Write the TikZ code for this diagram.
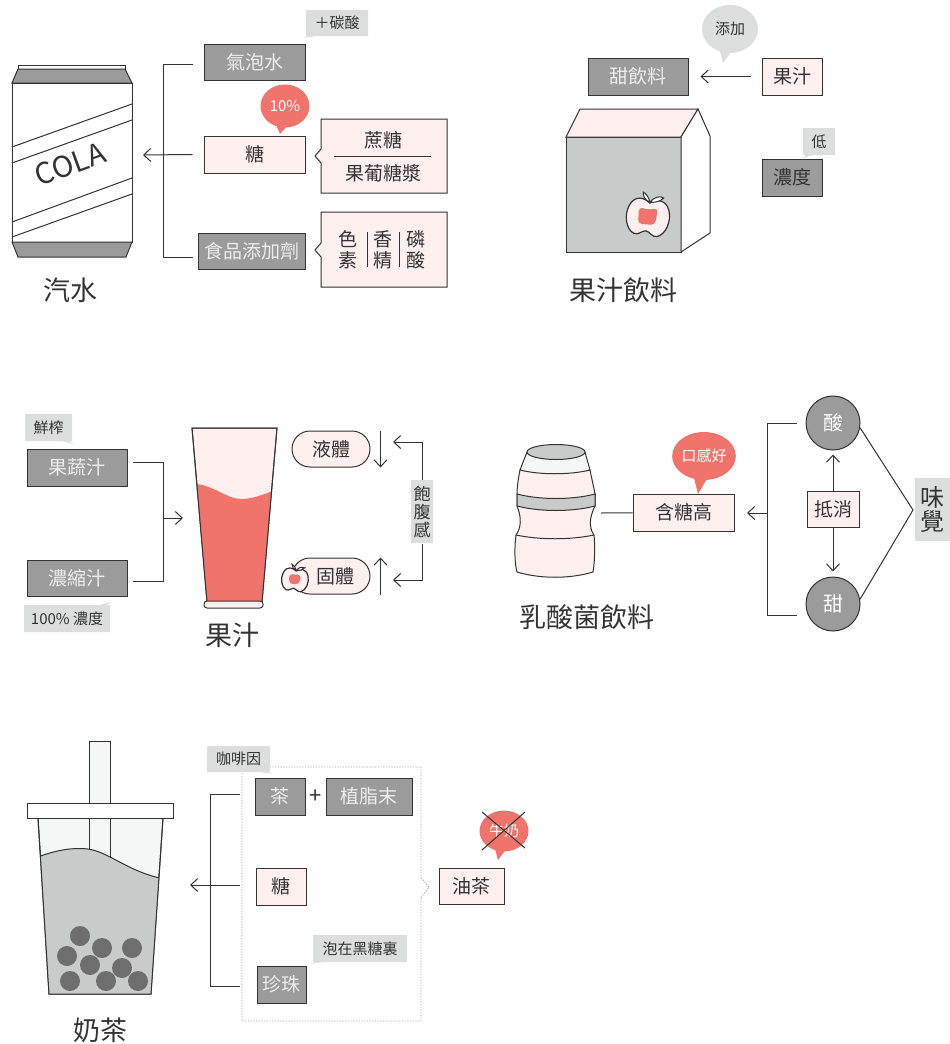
\documentclass[tikz,border=0pt]{standalone}
\usepackage{fontspec}
\setmainfont{Noto Sans CJK TC}
\usetikzlibrary{%
  positioning
 ,arrows.meta
 ,shapes.callouts
 ,calc
}
\definecolor{boxgray}{HTML}{9B9B9B}
\definecolor{boxpink}{HTML}{FFF0F0}
\definecolor{taggray}{HTML}{DCDDDD}
\definecolor{bubred}{HTML}{F0736C}
\definecolor{midgray}{HTML}{C9CACA}
\definecolor{cupwhite}{HTML}{F5F7F7}
\definecolor{pearl}{HTML}{6E6E6E}
\definecolor{ink}{HTML}{333333}

\tikzstyle{box}=[draw=ink,inner sep=0pt]
\tikzstyle{dkbox}=[box,fill=boxgray,text=white!93!black]
\tikzstyle{pkbox}=[box,fill=boxpink,text=ink]
\tikzstyle{notch}=[rectangle callout,callout pointer width=14pt]
\tikzstyle{tagbox}=[rectangle callout,fill=taggray,inner sep=0pt,callout pointer width=7pt,font=\fontsize{15}{17}\selectfont]
\tikzstyle{redbub}=[ellipse callout,fill=bubred,text=white,inner sep=0pt,callout pointer arc=22,font=\fontsize{15}{17}\selectfont]
\tikzstyle{lbl}=[font=\fontsize{27}{29}\selectfont,text=ink]
\tikzstyle{taste}=[circle,fill=boxgray,draw=ink,minimum size=54pt,inner sep=0pt,text=white,font=\fontsize{20}{22}\selectfont]

\tikzset{
  apple/.pic={
    \draw[fill=boxpink,line width=1.2pt] (0,-13) .. controls (-6,-18) and (-16,-19) .. (-20,-8)
      .. controls (-24,2) and (-20,16) .. (-12,19) .. controls (-7,21) and (-4,15) .. (0,15)
      .. controls (4,15) and (7,21) .. (12,19) .. controls (20,16) and (24,2) .. (20,-8)
      .. controls (16,-19) and (6,-18) .. (0,-13) -- cycle;
    \draw[fill=white] (0,-14) .. controls (-2,-19) and (-5,-22) .. (-8,-23) .. controls (-8,-19) and (-5,-15) .. (0,-14);
    \draw[fill=white] (0,-14) .. controls (4,-20) and (9,-22) .. (13,-20) .. controls (10,-16) and (5,-14) .. (0,-14);
    \fill[bubred,rounded corners=4pt] (-10,-8) -- (-2,-6) -- (9,-9) -- (8,8) -- (-9,9) -- cycle;
  }
}

\begin{document}
\begin{tikzpicture}[x=1pt,y=-1pt,line width=1pt,color=ink,
  font=\fontsize{19}{21}\selectfont,>={Straight Barb[length=7pt,width=13pt]}]
  \useasboundingbox (0,0) rectangle (950,1044);

  % --- soda -------------------------------------------------------------
  \draw[fill=white] (18,65) rectangle (125,69);
  \draw[fill=boxgray] (18,69) -- (125,69) -- (132,83) -- (12,83) -- cycle;
  \draw[fill=white] (12,83) rectangle (132,242);
  \draw[fill=boxgray] (12,242) -- (132,242) -- (126,257) -- (18,257) -- cycle;
  \draw (12,147) -- (132,104) (12,163) -- (132,120)
        (12,222) -- (132,178) (12,237) -- (132,194);
  \node[rotate=20,font=\fontsize{29}{31}\selectfont] (cola) at (70,164) {COLA};
  \node[lbl] (qishui) at (70,290) {汽水};

  \node[dkbox,minimum width=101,minimum height=36] (qpw) at (254.5,62) {氣泡水};
  \node[pkbox,minimum width=101,minimum height=37] (tang) at (254.5,154.5) {糖};
  \node[dkbox,minimum width=107,minimum height=36] (tjj) at (251.5,251) {食品添加劑};
  \node[tagbox,minimum width=62,minimum height=26,callout absolute pointer={(303,38)}] (ts) at (337,23) {＋碳酸};
  \node[redbub,minimum width=49,minimum height=43,callout absolute pointer={(280,134)}] (pct) at (285,106) {10\%};

  \node[pkbox,notch,minimum width=126,minimum height=74,callout absolute pointer={(315,156)}] (zt) at (384,156) {};
  \node (zt1) at (383,140) {蔗糖};
  \node (zt2) at (383,173) {果葡糖漿};
  \draw (334,156) -- (431,156);

  \node[pkbox,notch,minimum width=126,minimum height=75,callout absolute pointer={(315,250)}] (tjw) at (384,249.5) {};
  \node[align=center,font=\fontsize{19}{21}\selectfont] (sesu) at (348,250) {色\\素};
  \node[align=center,font=\fontsize{19}{21}\selectfont] (xj) at (383,250) {香\\精};
  \node[align=center,font=\fontsize{19}{21}\selectfont] (ls) at (416,250) {磷\\酸};
  \draw (367,232) -- (367,267) (399,232) -- (399,267);

  \coordinate (can) at (143,155);
  \draw (193,64) -| (163,257) -- (193,257);
  \draw[->] ([xshift=-11]tang.west) -- (can);

  % --- fruit drink ------------------------------------------------------
  \draw[fill=midgray] (566,137) rectangle (681,252);
  \draw[fill=boxpink] (566,137) -- (580,109) -- (698,109) -- (681,137) -- cycle;
  \draw[fill=white] (681,137) -- (698,109) -- (710,136) -- (710,233) -- (681,252) -- cycle;
  \pic[rotate=-8] at (648,216) {apple};
  \node[lbl] (gzyl) at (623,290) {果汁飲料};

  \node[dkbox,minimum width=100,minimum height=37] (tyl) at (638,76.5) {甜飲料};
  \node[pkbox,minimum width=60,minimum height=37] (gz) at (792,76.5) {果汁};
  \node[redbub,fill=taggray,text=ink,minimum width=56,minimum height=48,callout absolute pointer={(723,63)}] (tj) at (730,29) {添加};
  \draw[->] ([xshift=-11]gz.west) -- ([xshift=12]tyl.east);
  \node[dkbox,text=ink,minimum width=60,minimum height=37] (nd) at (792,177.5) {濃度};
  \node[tagbox,minimum width=32,minimum height=27,callout absolute pointer={(802,158)}] (di) at (819,141.5) {低};

  % --- juice ------------------------------------------------------------
  \node[tagbox,minimum width=47,minimum height=27,callout absolute pointer={(74,444)}] (xz) at (48.5,427.5) {鮮榨};
  \node[dkbox,minimum width=100,minimum height=37] (gsz) at (77,467.5) {果蔬汁};
  \node[dkbox,minimum width=100,minimum height=36] (nsz) at (77,578) {濃縮汁};
  \node[tagbox,minimum width=86,minimum height=27,callout absolute pointer={(112,602)}] (bfb) at (67,618.5) {100\% 濃度};
  \coordinate (glass) at (183,518);
  \draw (133,462) -| (163,581) -- (133,581);
  \draw[->] (163,518) -- (glass);

  \draw[fill=boxpink] (192,428) -- (277,428) -- (262,602) -- (207,602) -- cycle;
  \begin{scope}
    \clip (192,428) -- (277,428) -- (262,602) -- (207,602) -- cycle;
    \fill[bubred] (185,484) .. controls (212,481) and (225,500) .. (243,499)
      .. controls (258,498) and (268,492) .. (285,487) -- (285,610) -- (185,610) -- cycle;
  \end{scope}
  \draw (192,428) -- (277,428) -- (262,602) -- (207,602) -- cycle;
  \draw[fill=boxpink,rounded corners=3] (204,601) rectangle (263,608);
  \node[lbl] (gzl) at (232,635) {果汁};

  \node[pkbox,rounded corners=18,minimum width=78,minimum height=36] (yt) at (331,449) {液體};
  \node[pkbox,rounded corners=18,minimum width=78,minimum height=36] (gt) at (331,576) {\hspace{8pt}固體};
  \pic[scale=0.62,rotate=-8] at (295,579) {apple};
  \draw[->] ([xshift=10]yt.north east) -- ([xshift=10]yt.south east);
  \draw[->] ([xshift=10]gt.south east) -- ([xshift=10]gt.north east);

  \node[fill=taggray,minimum width=22,minimum height=63,inner sep=0pt,align=center,
        font=\fontsize{17}{18}\selectfont] (bfg) at (422,511.5) {飽\\腹\\感};
  \coordinate (f1) at (393,442);
  \coordinate (f2) at (393,580);
  \draw[->] (bfg.north) |- (f1);
  \draw[->] (bfg.south) |- (f2);

  % --- yakult -----------------------------------------------------------
  \draw[fill=boxpink] (520,470) .. controls (518,480) and (517,488) .. (517,494) -- (517,506)
    .. controls (522,518) and (521,528) .. (516,535) .. controls (514,550) and (515,565) .. (517,572)
    .. controls (540,579) and (570,579) .. (593,572) .. controls (595,560) and (595,545) .. (594,535)
    .. controls (589,528) and (589,518) .. (595,506) -- (595,494)
    .. controls (594,488) and (592,480) .. (590,470) -- cycle;
  \draw (516,535) .. controls (540,540) and (570,540) .. (594,535);
  \draw[fill=midgray] (517,494) .. controls (540,500) and (572,500) .. (595,494) -- (595,506)
    .. controls (572,512) and (540,512) .. (517,506) -- cycle;
  \draw[fill=cupwhite] (527,452) -- (520,470) .. controls (540,475) and (570,475) .. (590,470) -- (585,452) -- cycle;
  \draw[fill=midgray] (556,452) ellipse [x radius=29, y radius=7.5];
  \node[lbl] (rsj) at (587,617) {乳酸菌飲料};

  \coordinate (btl) at (601,513);
  \node[pkbox,minimum width=101,minimum height=37] (hth) at (683.5,512.5) {含糖高};
  \draw (btl) -- (hth);
  \node[redbub,minimum width=60,minimum height=48,callout absolute pointer={(698,494)}] (kg) at (704,456) {口感好};

  \node[taste] (suan) at (833,423) {酸};
  \node[taste] (tian) at (833,604) {甜};
  \node[pkbox,minimum width=52,minimum height=36] (dx) at (833,509) {抵消};
  \draw[->,shorten >=4pt] (dx.north) -- (suan.south);
  \draw[->,shorten >=5pt] (dx.south) -- (tian.north);
  \coordinate (wj) at (913,510);
  \draw (suan.-10) -- (wj) -- (tian.10);
  \node[fill=taggray,minimum width=35,minimum height=63,inner sep=0pt,align=center,
        font=\fontsize{24}{24}\selectfont] (wjb) at (932.5,509.5) {味\\覺};
  \coordinate (hthr) at (747,513);
  \draw (797,423) -| (767,615) -- (797,615);
  \draw[->] (767,513) -- (hthr);

  % --- milk tea ---------------------------------------------------------
  \draw[fill=cupwhite] (38,818) -- (163,818) -- (151,994) -- (49,994) -- cycle;
  \draw[fill=cupwhite] (89,741) rectangle (110,870);
  \begin{scope}
    \clip (38,818) -- (163,818) -- (151,994) -- (49,994) -- cycle;
    \fill[midgray] (30,860) .. controls (52,851) and (70,847) .. (88,849)
      .. controls (110,852) and (130,874) .. (170,880) -- (170,1000) -- (30,1000) -- cycle;
    \draw (30,860) .. controls (52,851) and (70,847) .. (88,849)
      .. controls (110,852) and (130,874) .. (170,880);
  \end{scope}
  \foreach \px/\py in {80/936,102/948,132/948,67/956,90/965,122/968,70/981,106/981,138/981}
    \fill[pearl] (\px,\py) circle [radius=10];
  \draw (38,818) -- (163,818) -- (151,994) -- (49,994) -- cycle;
  \draw[fill=white] (27,803) rectangle (173,818);
  \node[lbl] (nc) at (100,1030) {奶茶};

  \node[notch,draw=gray!70,line width=0.8pt,dash pattern=on 1.2pt off 1.5pt,callout pointer width=20pt,
        minimum width=179,minimum height=254,callout absolute pointer={(429,887)}] (frm) at (331.5,894) {};
  \node[tagbox,minimum width=63,minimum height=26,callout absolute pointer={(273,774)}] (kfy) at (238.5,759) {咖啡因};
  \node[dkbox,minimum width=50,minimum height=37] (cha) at (280,796.5) {茶};
  \node[font=\fontsize{22}{22}\selectfont] (plus) at (316,797) {+};
  \node[dkbox,minimum width=86,minimum height=37] (zzm) at (369,796.5) {植脂末};
  \node[pkbox,minimum width=50,minimum height=37] (tang2) at (281,886.5) {糖};
  \node[dkbox,minimum width=49,minimum height=37] (zz) at (281.5,984.5) {珍珠};
  \node[tagbox,minimum width=94,minimum height=27,callout absolute pointer={(309,964)}] (pz) at (360,948.5) {泡在黑糖裏};
  \node[pkbox,minimum width=65,minimum height=36] (yc) at (471.5,886) {油茶};
  \node[redbub,minimum width=49,minimum height=41,callout absolute pointer={(498,860)}] (nn) at (504,831) {牛奶};
  \draw (482,812) -- (525,848) (525,812) -- (482,850);

  \coordinate (cup) at (190,885);
  \draw (240,794) -| (210,986) -- (240,986);
  \draw[->] (240,885) -- (cup);
\end{tikzpicture}
\end{document}
